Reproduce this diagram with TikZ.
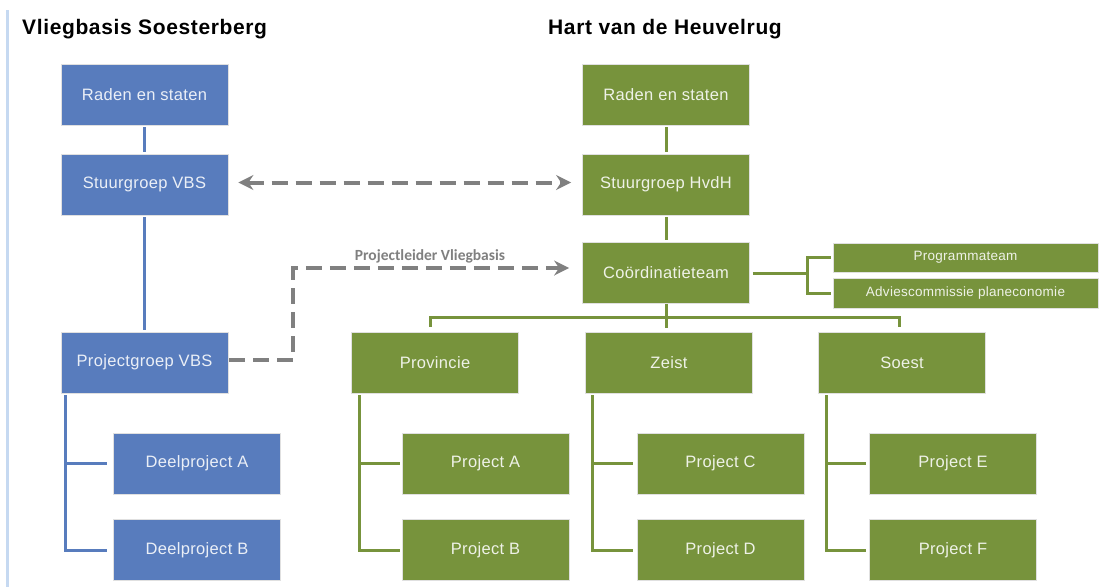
\documentclass[tikz,border=0pt]{standalone}
\usepackage{fontspec}
\setmainfont{Liberation Sans}
\newfontfamily\boxfont{Liberation Sans}[LetterSpace=2]
\newfontfamily\titlefont{Liberation Sans}[LetterSpace=3]
\newfontfamily\lblfont{Carlito}
\usetikzlibrary{arrows.meta,calc}
\definecolor{vbsblue}{RGB}{88,124,189}
\definecolor{hvgreen}{RGB}{119,147,60}
\definecolor{dashgray}{RGB}{128,128,128}
\definecolor{sideblue}{RGB}{198,217,241}
\tikzset{
  orgbox/.style={draw=black!12, line width=0.8pt, minimum width=167pt, minimum height=61pt,
    inner sep=0pt, text=white, text opacity=0.88, font=\boxfont\fontsize{16.5}{18}\selectfont},
  bluebox/.style={orgbox, fill=vbsblue},
  greenbox/.style={orgbox, fill=hvgreen},
  smallbox/.style={greenbox, minimum width=265pt, font=\boxfont\fontsize{13.5}{15}\selectfont},
  blueline/.style={draw=vbsblue, line width=3pt},
  greenline/.style={draw=hvgreen, line width=3pt},
  dasharrow/.style={draw=dashgray, line width=4pt, dash pattern=on 16pt off 8pt,
    -{Stealth[length=15pt,width=15pt,inset=5pt]}},
  titletext/.style={anchor=west, inner sep=0pt, font=\titlefont\bfseries\fontsize{21}{24}\selectfont}
}
\begin{document}
\begin{tikzpicture}[x=1pt,y=-1pt]
\useasboundingbox[fill=white] (0,0) rectangle (1099,587);
\draw[draw=sideblue, line width=3pt] (7,10) -- (7,587);

\node[titletext] (t1) at (22,29) {Vliegbasis Soesterberg};
\node[titletext] (t2) at (548,29) {Hart van de Heuvelrug};

% blue side
\node[bluebox] (r1) at (144.5,94.5) {Raden en staten};
\node[bluebox] (s1) at (144.5,184.5) {Stuurgroep VBS};
\node[bluebox] (pg) at (144.5,362.5) {Projectgroep VBS};
\node[bluebox] (da) at (197,463.5) {Deelproject A};
\node[bluebox] (db) at (197,550) {Deelproject B};

% green side
\node[greenbox] (r2) at (666,94.5) {Raden en staten};
\node[greenbox] (s2) at (666,184.5) {Stuurgroep HvdH};
\node[greenbox] (co) at (666,273) {Coördinatieteam};
\node[smallbox, minimum height=29pt] (prog) at (965.5,257.5) {Programmateam};
\node[smallbox, minimum height=30pt] (adv) at (965.5,293) {Adviescommissie planeconomie};
\node[greenbox] (prov) at (435,362.5) {Provincie};
\node[greenbox] (ze) at (669,362.5) {Zeist};
\node[greenbox] (so) at (902,362.5) {Soest};
\node[greenbox] (pa) at (485.5,463.5) {Project A};
\node[greenbox] (pb) at (485.5,550) {Project B};
\node[greenbox] (pc) at (720.5,463.5) {Project C};
\node[greenbox] (pd) at (720.5,550) {Project D};
\node[greenbox] (pe) at (953,463.5) {Project E};
\node[greenbox] (pf) at (953,550) {Project F};

% blue connectors
\draw[blueline] ([yshift=-2pt]r1.south) -- ([yshift=2pt]s1.north);
\draw[blueline] ([yshift=-2pt]s1.south) -- ([yshift=2pt]pg.north);
\draw[blueline] ([xshift=5pt,yshift=-2pt]pg.south west) |- ([xshift=-6pt]da.west);
\draw[blueline] ([xshift=5pt,yshift=-2pt]pg.south west) |- ([xshift=-6pt]db.west);

% green connectors
\draw[greenline] ([yshift=-2pt]r2.south) -- ([yshift=2pt]s2.north);
\draw[greenline] ([yshift=-2pt]s2.south) -- ([yshift=2pt]co.north);
\draw[greenline] ([xshift=3pt]co.east) -- ++(55,0) coordinate (bk);
\draw[greenline] ([xshift=-2pt]prog.west) -| (bk) |- ([xshift=-2pt]adv.west);
\draw[greenline] (co.south) -- ([yshift=4pt]co.south |- ze.north);
\coordinate (bus) at ($(co.south)+(0,14)$);
\draw[greenline] ([xshift=-5pt,yshift=5pt]prov.north) |- (bus) -| ([xshift=-3pt,yshift=5pt]so.north);
\draw[greenline] ([xshift=8pt,yshift=-2pt]prov.south west) |- ([xshift=-2pt]pa.west);
\draw[greenline] ([xshift=8pt,yshift=-2pt]prov.south west) |- ([xshift=-2pt]pb.west);
\draw[greenline] ([xshift=7pt,yshift=-2pt]ze.south west) |- ([xshift=-4pt]pc.west);
\draw[greenline] ([xshift=7pt,yshift=-2pt]ze.south west) |- ([xshift=-4pt]pd.west);
\draw[greenline] ([xshift=8pt,yshift=-2pt]so.south west) |- ([xshift=-3pt]pe.west);
\draw[greenline] ([xshift=8pt,yshift=-2pt]so.south west) |- ([xshift=-3pt]pf.west);

% dashed relations
\draw[dasharrow, {Stealth[length=15pt,width=15pt,inset=5pt]}-{Stealth[length=15pt,width=15pt,inset=5pt]}]
  ([xshift=10pt,yshift=2pt]s1.east) -- ([xshift=-11pt,yshift=2pt]s2.west);
\draw[dasharrow] ([xshift=1pt,yshift=3pt]pg.east) -- ++(64,0) coordinate (bend)
  |- ([xshift=-13pt,yshift=5pt]co.west);
\node[text=dashgray, font=\lblfont\bfseries\fontsize{15.5}{17}\selectfont, inner sep=0pt]
  (lbl) at (430,256) {Projectleider Vliegbasis};
\end{tikzpicture}
\end{document}
